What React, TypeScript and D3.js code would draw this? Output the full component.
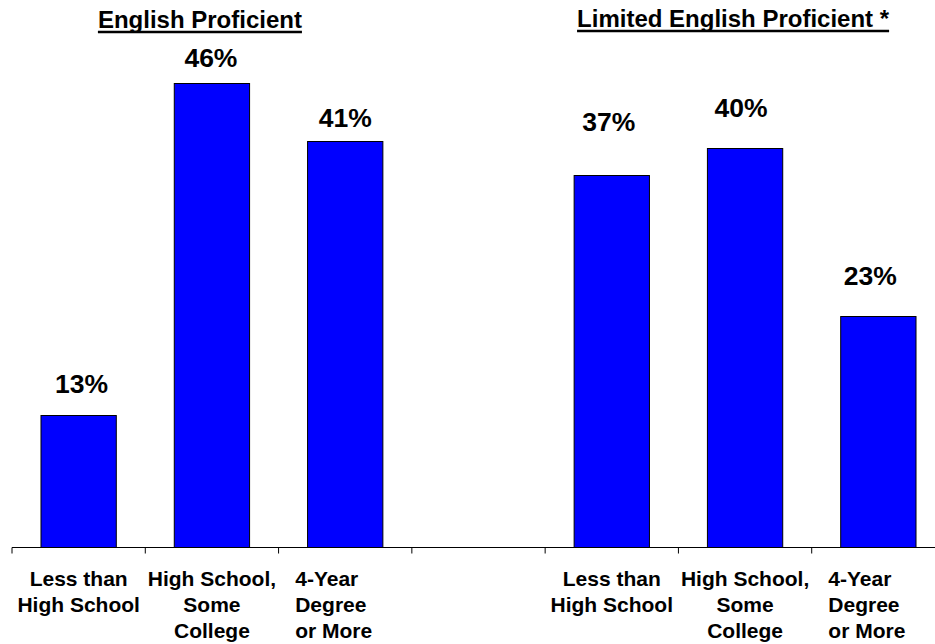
import React, { useEffect, useRef } from 'react';
import * as d3 from 'd3';

// groups and categories
const groups = ['English Proficient', 'Limited English Proficient *'];
const categories = ['Less than High School', 'High School, Some College', '4-Year Degree or More'];
const categoryLines = [['Less than', 'High School'], ['High School,', 'Some', 'College'], ['4-Year', 'Degree', 'or More']];

// values in percent
const englishProficient = [13.2, 46.4, 40.6];
const limitedEnglish = [37.2, 39.9, 23.1];

const W = 935;
const H = 644;

const App: React.FC = () => {
  const ref = useRef<SVGSVGElement>(null);

  useEffect(() => {
    document.body.style.margin = '0';
    const svg = d3.select(ref.current);
    svg.selectAll('*').remove();

    const font = 'Arial, "Liberation Sans", sans-serif';
    const baseline = 547.5;

    // 7 slots: 3 bars, empty gap, 3 bars
    const slots = ['a0', 'a1', 'a2', 'gap', 'b0', 'b1', 'b2'];
    const x = d3.scaleBand().domain(slots).range([12, 945]).padding(0);
    const y = d3.scaleLinear().domain([0, 50]).range([baseline, baseline - 500]);

    const rows = [
      ...englishProficient.map((v, i) => ({ slot: 'a' + i, v, i })),
      ...limitedEnglish.map((v, i) => ({ slot: 'b' + i, v, i })),
    ];
    // manual nudges of the value labels (dx, gap above bar)
    const nudge = [[3, 23], [-1, 17], [0, 15], [-3, 45], [-4, 32], [-8, 32]];

    const barW = x.bandwidth() * 0.565;

    svg
      .selectAll('.bar')
      .data(rows)
      .enter()
      .append('rect')
      .attr('x', d => x(d.slot)! + x.bandwidth() / 2 - barW / 2)
      .attr('y', d => y(d.v))
      .attr('width', barW)
      .attr('height', d => baseline - y(d.v))
      .attr('fill', '#0000ff')
      .attr('stroke', '#000')
      .attr('stroke-width', 1);

    svg
      .selectAll('.val')
      .data(rows)
      .enter()
      .append('text')
      .attr('x', (d, k) => x(d.slot)! + x.bandwidth() / 2 + nudge[k][0])
      .attr('y', (d, k) => y(d.v) - nudge[k][1])
      .attr('text-anchor', 'middle')
      .attr('font-family', font)
      .attr('font-weight', 'bold')
      .attr('font-size', 26.5)
      .attr('fill', '#000')
      .text(d => `${Math.round(d.v)}%`);

    // axis
    const axis = svg.append('g').attr('transform', `translate(0,${baseline})`);
    axis.append('line').attr('x1', 12).attr('x2', W).attr('stroke', '#000').attr('stroke-width', 1);
    axis
      .selectAll('.tick')
      .data(slots)
      .enter()
      .append('line')
      .attr('x1', d => x(d)!)
      .attr('x2', d => x(d)!)
      .attr('y1', 0)
      .attr('y2', 6)
      .attr('stroke', '#000');

    // category labels
    rows.forEach(d => {
      const cx = x(d.slot)! + x.bandwidth() / 2;
      const lines = categoryLines[d.i];
      const leftAligned = d.i === 2;
      const t = svg
        .append('text')
        .attr('font-family', font)
        .attr('font-weight', 'bold')
        .attr('font-size', 21)
        .attr('fill', '#000')
        .attr('text-anchor', leftAligned ? 'start' : 'middle')
        .attr('aria-label', categories[d.i]);
      lines.forEach((ln, j) => {
        t.append('tspan')
          .attr('x', leftAligned ? cx - 50 : cx)
          .attr('y', baseline + 38 + j * 26)
          .text(ln);
      });
    });

    // group titles, underlined
    groups.forEach((g, gi) => {
      const first = gi === 0 ? 'a0' : 'b0';
      const cx = x(first)! + x.bandwidth() * 1.5 - 12;
      const ty = gi === 0 ? 28 : 27;
      const t = svg
        .append('text')
        .attr('x', cx)
        .attr('y', ty)
        .attr('text-anchor', 'middle')
        .attr('font-family', font)
        .attr('font-weight', 'bold')
        .attr('font-size', 24)
        .attr('fill', '#000')
        .text(g);
      const w = (t.node() as SVGTextElement).getComputedTextLength();
      svg
        .append('line')
        .attr('x1', cx - w / 2)
        .attr('x2', cx + w / 2)
        .attr('y1', ty + 4)
        .attr('y2', ty + 4)
        .attr('stroke', '#000')
        .attr('stroke-width', 2.5);
    });
  }, []);

  return <svg ref={ref} width={W} height={H} style={{ display: 'block', background: '#fff' }} />;
};

export default App;
